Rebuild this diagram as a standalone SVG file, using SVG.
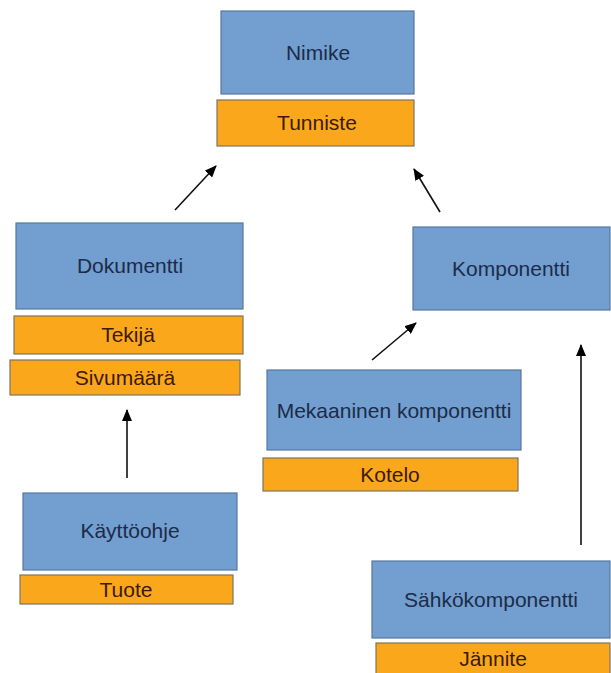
<svg xmlns="http://www.w3.org/2000/svg" width="611" height="673" viewBox="0 0 611 673">
  <style>
    .cls { fill: #729fcf; stroke: #5577a0; stroke-width: 1.2; }
    .attr { fill: #fba71b; stroke: #7d7360; stroke-width: 1.2; }
    .t { font-family: "Liberation Sans", Arial, sans-serif; font-size: 21px; text-anchor: middle; }
    .tc { fill: #1c2b4a; }
    .ta { fill: #3a1a08; }
    .edge { stroke: #111; stroke-width: 1.6; fill: none; marker-end: url(#arrow); }
  </style>
  <defs>
    <marker id="arrow" viewBox="0 0 12 10" refX="11" refY="5" markerWidth="12" markerHeight="10" markerUnits="userSpaceOnUse" orient="auto">
      <path d="M0,0 L12,5 L0,10 Z" fill="#000"/>
    </marker>
  </defs>
  <rect width="611" height="673" fill="#ffffff"/>

  <g id="connectors">
    <line class="edge" x1="175" y1="210" x2="216" y2="166"/>
    <line class="edge" x1="440" y1="212" x2="414" y2="169"/>
    <line class="edge" x1="372" y1="360" x2="416" y2="323"/>
    <line class="edge" x1="581" y1="545" x2="581" y2="345"/>
    <line class="edge" x1="127" y1="478" x2="127" y2="410"/>
  </g>

  <g id="nimike">
    <rect class="cls" x="221" y="11" width="193" height="83"/>
    <text class="t tc" x="318" y="60">Nimike</text>
    <rect class="attr" x="217" y="100" width="197" height="46"/>
    <text class="t ta" x="317" y="130">Tunniste</text>
  </g>

  <g id="dokumentti">
    <rect class="cls" x="16" y="223" width="227" height="86"/>
    <text class="t tc" x="130" y="273">Dokumentti</text>
    <rect class="attr" x="14" y="316" width="229" height="38"/>
    <text class="t ta" x="128" y="342">Tekijä</text>
    <rect class="attr" x="10" y="360" width="230" height="35"/>
    <text class="t ta" x="125" y="385">Sivumäärä</text>
  </g>

  <g id="komponentti">
    <rect class="cls" x="413" y="227" width="197" height="83"/>
    <text class="t tc" x="511" y="276">Komponentti</text>
  </g>

  <g id="mekaaninen">
    <rect class="cls" x="267" y="370" width="254" height="80"/>
    <text class="t tc" x="394" y="418">Mekaaninen komponentti</text>
    <rect class="attr" x="263" y="458" width="255" height="33"/>
    <text class="t ta" x="390" y="482">Kotelo</text>
  </g>

  <g id="kayttoohje">
    <rect class="cls" x="23" y="493" width="214" height="77"/>
    <text class="t tc" x="130" y="538">Käyttöohje</text>
    <rect class="attr" x="20" y="575" width="213" height="29"/>
    <text class="t ta" x="126" y="597">Tuote</text>
  </g>

  <g id="sahkokomponentti">
    <rect class="cls" x="372" y="561" width="238" height="77"/>
    <text class="t tc" x="491" y="607">Sähkökomponentti</text>
    <rect class="attr" x="376" y="643" width="234" height="32"/>
    <text class="t ta" x="493" y="666">Jännite</text>
  </g>
</svg>
